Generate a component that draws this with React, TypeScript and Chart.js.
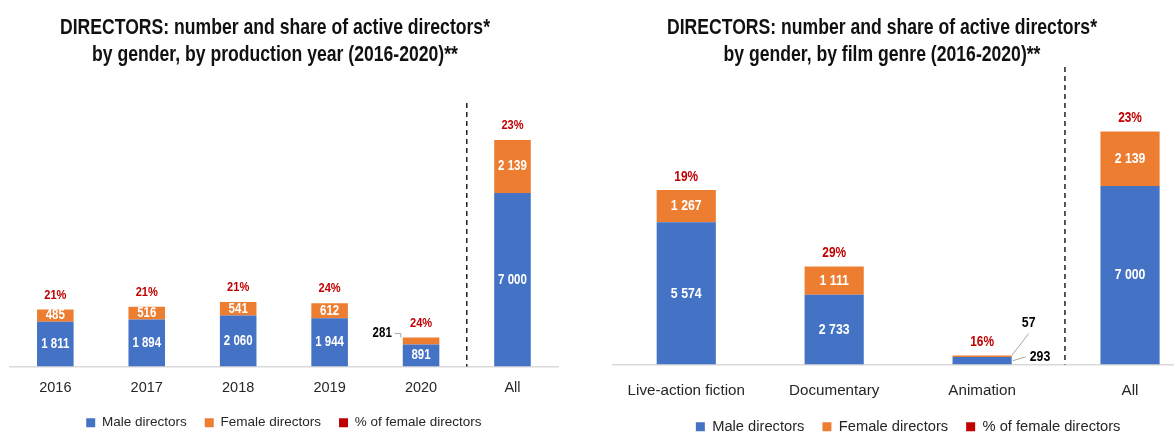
import React, { useEffect, useRef } from 'react';
import { Chart, registerables } from 'chart.js';

Chart.register(...registerables);

// ---------- data ----------
const yearCategories = ['2016', '2017', '2018', '2019', '2020', 'All'];
const yearMale = [1811, 1894, 2060, 1944, 891, 7000];
const yearFemale = [485, 516, 541, 612, 281, 2139];
const yearFemalePct = [21, 21, 21, 24, 24, 23];

const genreCategories = ['Live-action fiction', 'Documentary', 'Animation', 'All'];
const genreMale = [5574, 2733, 293, 7000];
const genreFemale = [1267, 1111, 57, 2139];
const genreFemalePct = [19, 29, 16, 23];

const seriesLabels = ['Male directors', 'Female directors', '% of female directors'];

// ---------- style ----------
const BLUE = '#4472C4';
const ORANGE = '#ED7D31';
const RED = '#C00000';
const FONT = "'Liberation Sans', Arial, sans-serif";
const NARROW = 0.82;

function fmt(v: number): string {
  return String(v).replace(/\B(?=(\d{3})+(?!\d))/g, ' ');
}

function narrowText(ctx: any, text: string, x: number, y: number, align: string) {
  ctx.save();
  ctx.translate(x, y);
  ctx.scale(NARROW, 1);
  ctx.textAlign = align;
  ctx.textBaseline = 'middle';
  ctx.fillText(text, 0, 0);
  ctx.restore();
}

type LabelOpts = {
  labelSize: number;
  pctSize: number;
  pctGap: number;
  side: 'left' | 'right';
  dashFrac: number;
};

function makeLabelPlugin(p: LabelOpts) {
  return {
    id: 'barLabels',
    afterDatasetsDraw(chart: any) {
      const ctx = chart.ctx;
      const maleEls = chart.getDatasetMeta(0).data;
      const femEls = chart.getDatasetMeta(1).data;
      const mv = chart.data.datasets[0].data as number[];
      const fv = chart.data.datasets[1].data as number[];
      const pv = chart.data.datasets[2].data as number[];
      const { top, bottom } = chart.chartArea;
      const xs = chart.scales.x;
      const n = mv.length;
      ctx.save();
      // dashed separator before "All"
      const xa = xs.getPixelForValue(n - 2);
      const xb = xs.getPixelForValue(n - 1);
      const xd = xa + (xb - xa) * p.dashFrac;
      ctx.strokeStyle = '#222';
      ctx.lineWidth = 1.5;
      ctx.setLineDash([5, 4]);
      ctx.beginPath();
      ctx.moveTo(xd, top);
      ctx.lineTo(xd, bottom);
      ctx.stroke();
      ctx.setLineDash([]);

      for (let i = 0; i < n; i++) {
        const m = maleEls[i];
        const f = femEls[i];
        const half = m.width / 2;
        const left = m.x - half;
        const right = m.x + half;
        const mh = m.base - m.y;
        const fh = f.base - f.y;
        ctx.font = `bold ${p.labelSize}px ${FONT}`;
        ctx.strokeStyle = '#A6A6A6';
        ctx.lineWidth = 1;
        // male
        if (mh >= 10) {
          ctx.fillStyle = '#fff';
          narrowText(ctx, fmt(mv[i]), m.x, (m.y + m.base) / 2, 'center');
        } else {
          const y0 = (m.y + m.base) / 2;
          ctx.beginPath();
          ctx.moveTo(right + 1, y0);
          ctx.lineTo(right + 14, y0 - 4);
          ctx.stroke();
          ctx.fillStyle = '#000';
          narrowText(ctx, fmt(mv[i]), right + 18, y0 - 4, 'left');
        }
        // female
        if (fh >= 10) {
          ctx.fillStyle = '#fff';
          narrowText(ctx, fmt(fv[i]), f.x, (f.y + f.base) / 2, 'center');
        } else if (p.side === 'left') {
          const y1 = f.y - 4;
          ctx.beginPath();
          ctx.moveTo(left - 8, y1);
          ctx.lineTo(left - 2, y1);
          ctx.lineTo(left - 2, f.y);
          ctx.stroke();
          ctx.fillStyle = '#000';
          narrowText(ctx, fmt(fv[i]), left - 11, y1, 'right');
        } else {
          ctx.beginPath();
          ctx.moveTo(right, f.y);
          ctx.lineTo(right + 17, f.y - 22);
          ctx.stroke();
          ctx.fillStyle = '#000';
          narrowText(ctx, fmt(fv[i]), right + 17, f.y - 33, 'center');
        }
        // percentage
        ctx.font = `bold ${p.pctSize}px ${FONT}`;
        ctx.fillStyle = RED;
        narrowText(ctx, `${pv[i]}%`, m.x, f.y - p.pctGap, 'center');
      }
      ctx.restore();
    },
  };
}

type Cfg = {
  cats: string[];
  male: number[];
  female: number[];
  pct: number[];
  yMax: number;
  padding: { top: number; left: number; right: number; bottom: number };
  tickSize: number;
  tickPad: number;
  axisHeight: number;
  legendSize: number;
  legendPad: number;
  legendMaxH: number;
  labels: LabelOpts;
};

function buildConfig(c: Cfg): any {
  return {
    type: 'bar',
    data: {
      labels: c.cats,
      datasets: [
        {
          label: seriesLabels[0],
          data: c.male,
          backgroundColor: BLUE,
          barPercentage: 0.4,
          categoryPercentage: 1,
        },
        {
          label: seriesLabels[1],
          data: c.female,
          backgroundColor: ORANGE,
          barPercentage: 0.4,
          categoryPercentage: 1,
        },
        {
          type: 'line',
          label: seriesLabels[2],
          data: c.pct,
          yAxisID: 'yPct',
          showLine: false,
          pointRadius: 0,
          backgroundColor: RED,
          borderColor: RED,
          borderWidth: 0,
        },
      ],
    },
    options: {
      animation: false,
      responsive: false,
      events: [],
      layout: { padding: c.padding },
      scales: {
        x: {
          stacked: true,
          grid: { display: false, drawTicks: false },
          border: { display: true, color: '#D9D9D9', width: 1.5 },
          ticks: {
            color: '#262626',
            font: { family: FONT, size: c.tickSize },
            padding: c.tickPad,
            maxRotation: 0,
            autoSkip: false,
          },
          afterFit: (scale: any) => {
            scale.height = c.axisHeight;
          },
        },
        y: { stacked: true, display: false, min: 0, max: c.yMax },
        yPct: { display: false, min: 0, max: 100 },
      },
      plugins: {
        tooltip: { enabled: false },
        title: { display: false },
        legend: {
          position: 'bottom',
          maxHeight: c.legendMaxH,
          labels: {
            color: '#262626',
            font: { family: FONT, size: c.legendSize },
            boxWidth: 9,
            boxHeight: 9,
            padding: c.legendPad,
          },
        },
      },
    },
    plugins: [makeLabelPlugin(c.labels)],
  };
}

function BarChart({ cfg, left, width }: { cfg: Cfg; left: number; width: number }) {
  const ref = useRef<HTMLCanvasElement>(null);
  useEffect(() => {
    const chart = new Chart(ref.current as HTMLCanvasElement, buildConfig(cfg));
    return () => chart.destroy();
  }, []);
  return (
    <canvas
      ref={ref}
      width={width}
      height={436}
      style={{ position: 'absolute', left, top: 0, width, height: 436 }}
    />
  );
}

const titleStyle: React.CSSProperties = {
  position: 'absolute',
  top: 12.5,
  fontFamily: FONT,
  fontWeight: 'bold',
  fontSize: 22,
  lineHeight: '27px',
  color: '#111',
  textAlign: 'center',
  whiteSpace: 'nowrap',
  transform: 'scaleX(0.8)',
  transformOrigin: '50% 50%',
};

export default function App() {
  const leftCfg: Cfg = {
    cats: yearCategories,
    male: yearMale,
    female: yearFemale,
    pct: yearFemalePct,
    yMax: 10634,
    padding: { top: 103, left: 9.6, right: 3.8, bottom: 0 },
    tickSize: 14.5,
    tickPad: 12.7,
    axisHeight: 31.45,
    legendSize: 13.5,
    legendPad: 18,
    legendMaxH: 38.05,
    labels: { labelSize: 14, pctSize: 13.5, pctGap: 14.5, side: 'left', dashFrac: 0.5 },
  };
  const rightCfg: Cfg = {
    cats: genreCategories,
    male: genreMale,
    female: genreFemale,
    pct: genreFemalePct,
    yMax: 11667,
    padding: { top: 67, left: 22.3, right: 10, bottom: 0 },
    tickSize: 15.2,
    tickPad: 17,
    axisHeight: 36.85,
    legendSize: 14.7,
    legendPad: 18,
    legendMaxH: 34.65,
    labels: { labelSize: 15, pctSize: 14.5, pctGap: 13.5, side: 'right', dashFrac: 0.56 },
  };
  return (
    <div
      style={{
        position: 'fixed',
        left: 0,
        top: 0,
        width: 1174,
        height: 436,
        overflow: 'hidden',
        background: '#fff',
      }}
    >
      <BarChart cfg={leftCfg} left={0} width={562} />
      <BarChart cfg={rightCfg} left={590} width={624} />
      <div style={{ ...titleStyle, left: 0, width: 550 }}>
        DIRECTORS: number and share of active directors*
        <br />
        by gender, by production year (2016-2020)**
      </div>
      <div style={{ ...titleStyle, left: 592, width: 580 }}>
        DIRECTORS: number and share of active directors*
        <br />
        by gender, by film genre (2016-2020)**
      </div>
    </div>
  );
}
